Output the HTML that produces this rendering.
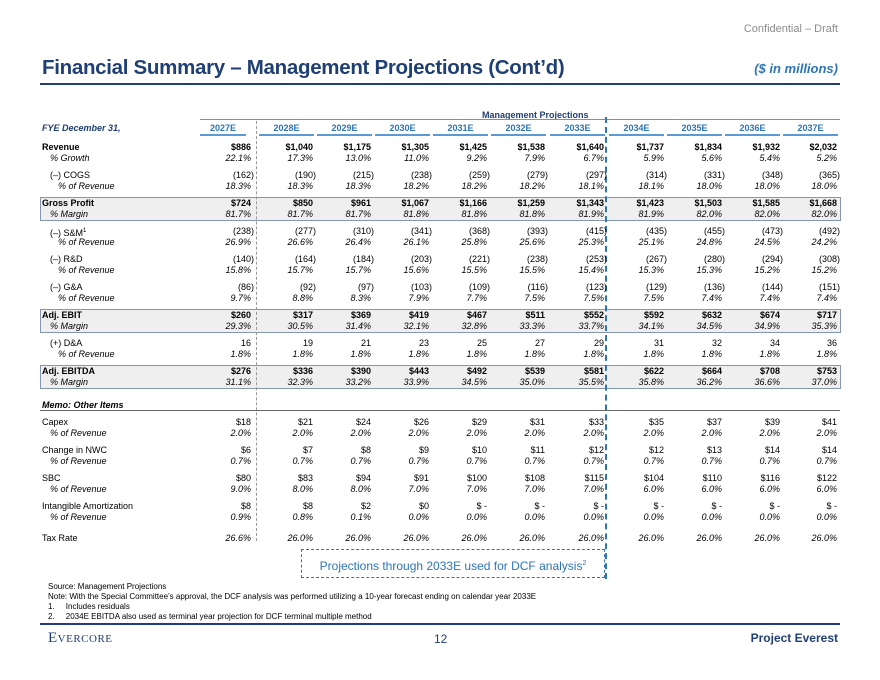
<!DOCTYPE html>
<html><head><meta charset="utf-8"><style>
body{margin:0;width:880px;height:680px;background:#fff;font-family:"Liberation Sans",Arial,sans-serif;position:relative;overflow:hidden;color:#000}
.a{position:absolute;white-space:nowrap}
.r{position:absolute;left:0;width:880px;height:11px;font-size:9px;line-height:11px}
.r>span{position:absolute;top:0;width:60px;text-align:right}
.r>span:nth-child(1){text-align:left;width:200px}
.r>span:nth-child(2){left:191px}.r>span:nth-child(3){left:253px}.r>span:nth-child(4){left:311px}
.r>span:nth-child(5){left:369px}.r>span:nth-child(6){left:427px}.r>span:nth-child(7){left:485px}
.r>span:nth-child(8){left:544px}.r>span:nth-child(9){left:604px}.r>span:nth-child(10){left:662px}
.r>span:nth-child(11){left:720px}.r>span:nth-child(12){left:777px}
.r>span.n{transform:translateX(3px)}
.b{font-weight:bold}.it{font-style:italic}
.box{position:absolute;left:40px;width:799px;height:22px;background:#efefef;border:1px solid #8497b0}
.hd{position:absolute;top:122px;font-size:9px;font-weight:bold;color:#2e75b6;text-align:center;border-bottom:2px solid #5b9bd5;height:12px;line-height:12px}
.fn{position:absolute;left:48px;font-size:8px;line-height:10px}
</style></head><body>
<div class="a" style="right:42px;top:23px;font-size:11px;color:#8c8c8c">Confidential – Draft</div>
<div class="a" style="left:42px;top:56px;font-size:20.5px;font-weight:bold;color:#203f74;letter-spacing:-0.3px">Financial Summary – Management Projections (Cont’d)</div>
<div class="a" style="right:42px;top:61px;font-size:13px;font-weight:bold;font-style:italic;color:#2e75b6">($ in millions)</div>
<div class="a" style="left:40px;top:83px;width:800px;height:2px;background:#203f74"></div>

<div class="a" style="left:482px;top:110px;font-size:9px;font-weight:bold;color:#203f74">Management Projections</div>
<div class="a" style="left:200px;top:119px;width:640px;height:1px;background:#5b9bd5"></div>
<div class="a" style="left:42px;top:123px;font-size:9px;font-weight:bold;font-style:italic;color:#203f74">FYE December 31,</div>
<div class="hd" style="left:200px;width:46px">2027E</div>
<div class="hd" style="left:259px;width:55px">2028E</div>
<div class="hd" style="left:317px;width:55px">2029E</div>
<div class="hd" style="left:375px;width:55px">2030E</div>
<div class="hd" style="left:433px;width:55px">2031E</div>
<div class="hd" style="left:491px;width:55px">2032E</div>
<div class="hd" style="left:550px;width:55px">2033E</div>
<div class="hd" style="left:609px;width:55px">2034E</div>
<div class="hd" style="left:667px;width:55px">2035E</div>
<div class="hd" style="left:725px;width:55px">2036E</div>
<div class="hd" style="left:783px;width:55px">2037E</div>

<div class="box" style="top:197px"></div>
<div class="box" style="top:309px"></div>
<div class="box" style="top:365px"></div>

<div class="a" style="left:256px;top:121px;height:420px;border-left:1px dashed #999"></div>
<div class="a" style="left:605px;top:117px;height:462px;border-left:2px dashed #2e75b6"></div>

<div class="r b" style="top:142px"><span style="left:42px">Revenue</span><span>$886</span><span>$1,040</span><span>$1,175</span><span>$1,305</span><span>$1,425</span><span>$1,538</span><span>$1,640</span><span>$1,737</span><span>$1,834</span><span>$1,932</span><span>$2,032</span></div>
<div class="r it" style="top:153px"><span style="left:50px">% Growth</span><span>22.1%</span><span>17.3%</span><span>13.0%</span><span>11.0%</span><span>9.2%</span><span>7.9%</span><span>6.7%</span><span>5.9%</span><span>5.6%</span><span>5.4%</span><span>5.2%</span></div>
<div class="r" style="top:170px"><span style="left:50px">(–) COGS</span><span class="n">(162)</span><span class="n">(190)</span><span class="n">(215)</span><span class="n">(238)</span><span class="n">(259)</span><span class="n">(279)</span><span class="n">(297)</span><span class="n">(314)</span><span class="n">(331)</span><span class="n">(348)</span><span class="n">(365)</span></div>
<div class="r it" style="top:181px"><span style="left:58px">% of Revenue</span><span>18.3%</span><span>18.3%</span><span>18.3%</span><span>18.2%</span><span>18.2%</span><span>18.2%</span><span>18.1%</span><span>18.1%</span><span>18.0%</span><span>18.0%</span><span>18.0%</span></div>
<div class="r b" style="top:198px"><span style="left:42px">Gross Profit</span><span>$724</span><span>$850</span><span>$961</span><span>$1,067</span><span>$1,166</span><span>$1,259</span><span>$1,343</span><span>$1,423</span><span>$1,503</span><span>$1,585</span><span>$1,668</span></div>
<div class="r it" style="top:209px"><span style="left:50px">% Margin</span><span>81.7%</span><span>81.7%</span><span>81.7%</span><span>81.8%</span><span>81.8%</span><span>81.8%</span><span>81.9%</span><span>81.9%</span><span>82.0%</span><span>82.0%</span><span>82.0%</span></div>
<div class="r" style="top:226px"><span style="left:50px">(–) S&amp;M<sup style="font-size:6px">1</sup></span><span class="n">(238)</span><span class="n">(277)</span><span class="n">(310)</span><span class="n">(341)</span><span class="n">(368)</span><span class="n">(393)</span><span class="n">(415)</span><span class="n">(435)</span><span class="n">(455)</span><span class="n">(473)</span><span class="n">(492)</span></div>
<div class="r it" style="top:237px"><span style="left:58px">% of Revenue</span><span>26.9%</span><span>26.6%</span><span>26.4%</span><span>26.1%</span><span>25.8%</span><span>25.6%</span><span>25.3%</span><span>25.1%</span><span>24.8%</span><span>24.5%</span><span>24.2%</span></div>
<div class="r" style="top:254px"><span style="left:50px">(–) R&amp;D</span><span class="n">(140)</span><span class="n">(164)</span><span class="n">(184)</span><span class="n">(203)</span><span class="n">(221)</span><span class="n">(238)</span><span class="n">(253)</span><span class="n">(267)</span><span class="n">(280)</span><span class="n">(294)</span><span class="n">(308)</span></div>
<div class="r it" style="top:265px"><span style="left:58px">% of Revenue</span><span>15.8%</span><span>15.7%</span><span>15.7%</span><span>15.6%</span><span>15.5%</span><span>15.5%</span><span>15.4%</span><span>15.3%</span><span>15.3%</span><span>15.2%</span><span>15.2%</span></div>
<div class="r" style="top:282px"><span style="left:50px">(–) G&amp;A</span><span class="n">(86)</span><span class="n">(92)</span><span class="n">(97)</span><span class="n">(103)</span><span class="n">(109)</span><span class="n">(116)</span><span class="n">(123)</span><span class="n">(129)</span><span class="n">(136)</span><span class="n">(144)</span><span class="n">(151)</span></div>
<div class="r it" style="top:293px"><span style="left:58px">% of Revenue</span><span>9.7%</span><span>8.8%</span><span>8.3%</span><span>7.9%</span><span>7.7%</span><span>7.5%</span><span>7.5%</span><span>7.5%</span><span>7.4%</span><span>7.4%</span><span>7.4%</span></div>
<div class="r b" style="top:310px"><span style="left:42px">Adj. EBIT</span><span>$260</span><span>$317</span><span>$369</span><span>$419</span><span>$467</span><span>$511</span><span>$552</span><span>$592</span><span>$632</span><span>$674</span><span>$717</span></div>
<div class="r it" style="top:321px"><span style="left:50px">% Margin</span><span>29.3%</span><span>30.5%</span><span>31.4%</span><span>32.1%</span><span>32.8%</span><span>33.3%</span><span>33.7%</span><span>34.1%</span><span>34.5%</span><span>34.9%</span><span>35.3%</span></div>
<div class="r" style="top:338px"><span style="left:50px">(+) D&amp;A</span><span>16</span><span>19</span><span>21</span><span>23</span><span>25</span><span>27</span><span>29</span><span>31</span><span>32</span><span>34</span><span>36</span></div>
<div class="r it" style="top:349px"><span style="left:58px">% of Revenue</span><span>1.8%</span><span>1.8%</span><span>1.8%</span><span>1.8%</span><span>1.8%</span><span>1.8%</span><span>1.8%</span><span>1.8%</span><span>1.8%</span><span>1.8%</span><span>1.8%</span></div>
<div class="r b" style="top:366px"><span style="left:42px">Adj. EBITDA</span><span>$276</span><span>$336</span><span>$390</span><span>$443</span><span>$492</span><span>$539</span><span>$581</span><span>$622</span><span>$664</span><span>$708</span><span>$753</span></div>
<div class="r it" style="top:377px"><span style="left:50px">% Margin</span><span>31.1%</span><span>32.3%</span><span>33.2%</span><span>33.9%</span><span>34.5%</span><span>35.0%</span><span>35.5%</span><span>35.8%</span><span>36.2%</span><span>36.6%</span><span>37.0%</span></div>

<div class="a" style="left:42px;top:400px;font-size:9px;font-weight:bold;font-style:italic">Memo: Other Items</div>
<div class="a" style="left:40px;top:410px;width:800px;height:1px;background:#666"></div>

<div class="r" style="top:417px"><span style="left:42px">Capex</span><span>$18</span><span>$21</span><span>$24</span><span>$26</span><span>$29</span><span>$31</span><span>$33</span><span>$35</span><span>$37</span><span>$39</span><span>$41</span></div>
<div class="r it" style="top:428px"><span style="left:50px">% of Revenue</span><span>2.0%</span><span>2.0%</span><span>2.0%</span><span>2.0%</span><span>2.0%</span><span>2.0%</span><span>2.0%</span><span>2.0%</span><span>2.0%</span><span>2.0%</span><span>2.0%</span></div>
<div class="r" style="top:445px"><span style="left:42px">Change in NWC</span><span>$6</span><span>$7</span><span>$8</span><span>$9</span><span>$10</span><span>$11</span><span>$12</span><span>$12</span><span>$13</span><span>$14</span><span>$14</span></div>
<div class="r it" style="top:456px"><span style="left:50px">% of Revenue</span><span>0.7%</span><span>0.7%</span><span>0.7%</span><span>0.7%</span><span>0.7%</span><span>0.7%</span><span>0.7%</span><span>0.7%</span><span>0.7%</span><span>0.7%</span><span>0.7%</span></div>
<div class="r" style="top:473px"><span style="left:42px">SBC</span><span>$80</span><span>$83</span><span>$94</span><span>$91</span><span>$100</span><span>$108</span><span>$115</span><span>$104</span><span>$110</span><span>$116</span><span>$122</span></div>
<div class="r it" style="top:484px"><span style="left:50px">% of Revenue</span><span>9.0%</span><span>8.0%</span><span>8.0%</span><span>7.0%</span><span>7.0%</span><span>7.0%</span><span>7.0%</span><span>6.0%</span><span>6.0%</span><span>6.0%</span><span>6.0%</span></div>
<div class="r" style="top:501px"><span style="left:42px">Intangible Amortization</span><span>$8</span><span>$8</span><span>$2</span><span>$0</span><span>$ -</span><span>$ -</span><span>$ -</span><span>$ -</span><span>$ -</span><span>$ -</span><span>$ -</span></div>
<div class="r it" style="top:512px"><span style="left:50px">% of Revenue</span><span>0.9%</span><span>0.8%</span><span>0.1%</span><span>0.0%</span><span>0.0%</span><span>0.0%</span><span>0.0%</span><span>0.0%</span><span>0.0%</span><span>0.0%</span><span>0.0%</span></div>
<div class="r" style="top:533px"><span style="left:42px">Tax Rate</span><span class="it">26.6%</span><span class="it">26.0%</span><span class="it">26.0%</span><span class="it">26.0%</span><span class="it">26.0%</span><span class="it">26.0%</span><span class="it">26.0%</span><span class="it">26.0%</span><span class="it">26.0%</span><span class="it">26.0%</span><span class="it">26.0%</span></div>

<div class="a" style="left:301px;top:549px;width:302px;height:27px;border:1.5px dashed #2e75b6;font-size:12px;color:#2e75b6;text-align:center;line-height:27px">Projections through 2033E used for DCF analysis<sup style="font-size:7px">2</sup></div>

<div class="fn" style="top:582px">Source: Management Projections</div>
<div class="fn" style="top:592px">Note: With the Special Committee’s approval, the DCF analysis was performed utilizing a 10-year forecast ending on calendar year 2033E</div>
<div class="fn" style="top:602px">1.&nbsp;&nbsp;&nbsp;&nbsp;&nbsp;Includes residuals</div>
<div class="fn" style="top:612px">2.&nbsp;&nbsp;&nbsp;&nbsp;&nbsp;2034E EBITDA also used as terminal year projection for DCF terminal multiple method</div>
<div class="a" style="left:40px;top:623px;width:800px;height:2px;background:#203f74"></div>
<div class="a" style="left:48px;top:630px;font-family:'Liberation Serif',serif;font-size:15px;color:#203f74;font-variant:small-caps;letter-spacing:0.5px">Evercore</div>
<div class="a" style="left:434px;top:632px;font-size:12px;color:#203f74">12</div>
<div class="a" style="right:42px;top:631px;font-size:12px;font-weight:bold;color:#203f74">Project Everest</div>
</body></html>
